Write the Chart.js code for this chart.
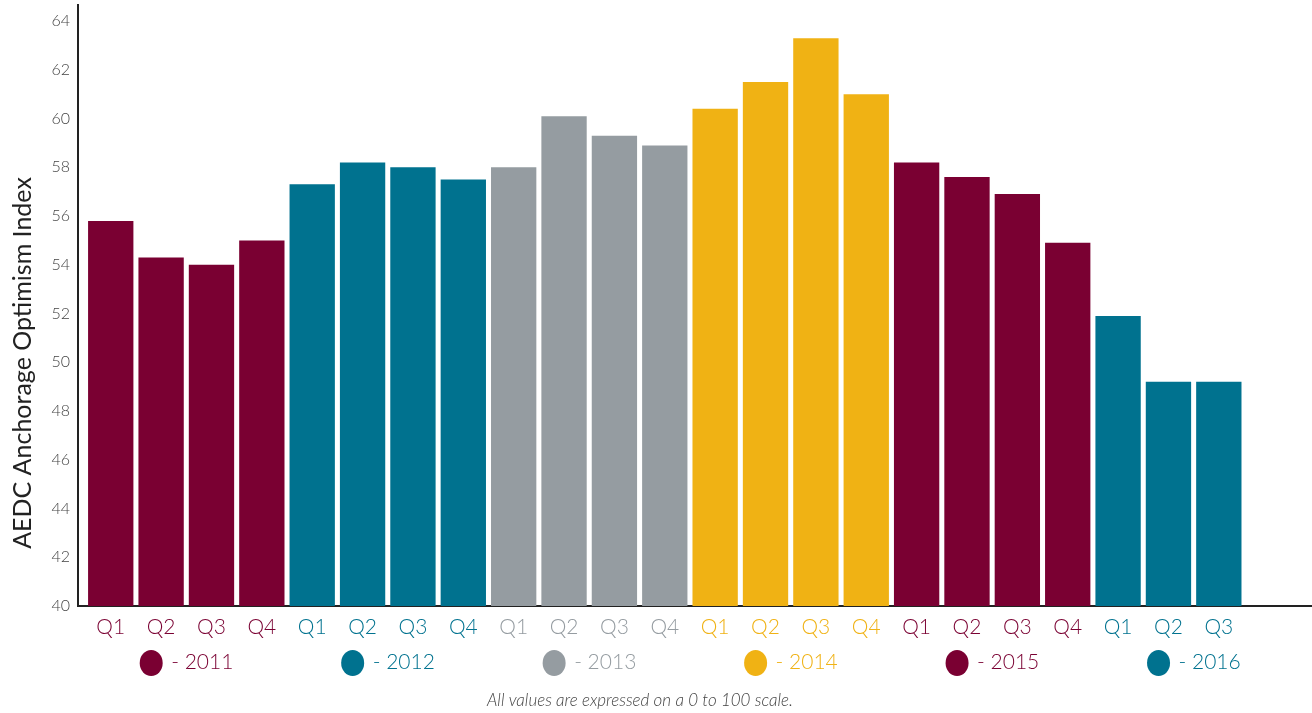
<!DOCTYPE html>
<html>
<head>
<meta charset="utf-8">
<script src="https://cdn.jsdelivr.net/npm/chart.js@4"></script>
<style>
  body { margin: 0; background: #fff; }
  #wrap { width: 1312px; height: 713px; }
</style>
</head>
<body>
<div id="wrap"><canvas id="myChart" width="1312" height="713"></canvas></div>
<script>
// data
const quarters = ["Q1", "Q2", "Q3", "Q4", "Q1", "Q2", "Q3", "Q4", "Q1", "Q2", "Q3", "Q4",
  "Q1", "Q2", "Q3", "Q4", "Q1", "Q2", "Q3", "Q4", "Q1", "Q2", "Q3"];
const years = [2011, 2011, 2011, 2011, 2012, 2012, 2012, 2012, 2013, 2013, 2013, 2013,
  2014, 2014, 2014, 2014, 2015, 2015, 2015, 2015, 2016, 2016, 2016];
const values = [55.8, 54.3, 54.0, 55.0, 57.3, 58.2, 58.0, 57.5, 58.0, 60.1, 59.3, 58.9,
  60.4, 61.5, 63.3, 61.0, 58.2, 57.6, 56.9, 54.9, 51.9, 49.2, 49.2];
const legendYears = [2011, 2012, 2013, 2014, 2015, 2016];

const yearColors = {
  2011: "#7a0032",
  2012: "#00728f",
  2013: "#959ca1",
  2014: "#f0b214",
  2015: "#7a0032",
  2016: "#00728f"
};
const FONT = "Lato, 'Open Sans', sans-serif";

// legend circles + footnote + y title
const extras = {
  id: "extras",
  afterDraw(chart) {
    const ctx = chart.ctx;
    const x = chart.scales.x;
    ctx.save();
    legendYears.forEach((yr, i) => {
      const cx = x.getPixelForValue(i * 4 + 1.5);
      const col = yearColors[yr];
      ctx.font = "300 21px " + FONT;
      const label = "- " + yr;
      const tw = ctx.measureText(label).width;
      const total = 24 + 8 + tw;
      const left = cx - total / 2;
      ctx.fillStyle = col;
      ctx.beginPath();
      ctx.ellipse(left + 12, 663, 11.5, 13, 0, 0, Math.PI * 2);
      ctx.fill();
      ctx.textBaseline = "middle";
      ctx.textAlign = "left";
      ctx.fillText(label, left + 32, 662);
    });
    ctx.font = "italic 300 17px " + FONT;
    ctx.fillStyle = "#444";
    ctx.textAlign = "center";
    ctx.fillText("All values are expressed on a 0 to 100 scale.", 640, 701);

    ctx.translate(23, 363);
    ctx.rotate(-Math.PI / 2);
    ctx.font = "25px " + FONT;
    ctx.fillStyle = "#222";
    ctx.fillText("AEDC Anchorage Optimism Index", 0, 0);
    ctx.restore();
  }
};

new Chart(document.getElementById("myChart"), {
  type: "bar",
  data: {
    datasets: [{
      data: values.map((v, i) => ({ x: i, y: v })),
      backgroundColor: years.map(y => yearColors[y]),
      barPercentage: 0.9,
      categoryPercentage: 1.0
    }]
  },
  options: {
    responsive: false,
    animation: false,
    layout: { padding: { top: 5, right: 0, left: 0, bottom: 0 } },
    plugins: { legend: { display: false }, tooltip: { enabled: false } },
    scales: {
      x: {
        type: "linear",
        offset: false,
        min: -0.65,
        max: 23.85,
        grid: { display: false, drawTicks: false },
        border: { display: true, color: "#222", width: 2 },
        afterFit: s => { s.height = 107; s.paddingLeft = 0; s.paddingRight = 0; },
        ticks: {
          stepSize: 1,
          includeBounds: false,
          autoSkip: false,
          maxRotation: 0,
          padding: 9,
          font: { family: FONT, size: 21, weight: 300 },
          color: c => yearColors[years[c.tick.value]] || "#000",
          callback: v => quarters[v] || ""
        }
      },
      y: {
        min: 40,
        max: 64.66,
        grid: { display: false, drawTicks: false },
        border: { display: true, color: "#222", width: 2 },
        afterFit: s => { s.width = 78; s.paddingTop = 0; s.paddingBottom = 0; },
        ticks: {
          stepSize: 2,
          includeBounds: false,
          padding: 8,
          font: { family: FONT, size: 16, weight: 300 },
          color: "#444"
        }
      }
    }
  },
  plugins: [extras]
});
</script>
</body>
</html>
